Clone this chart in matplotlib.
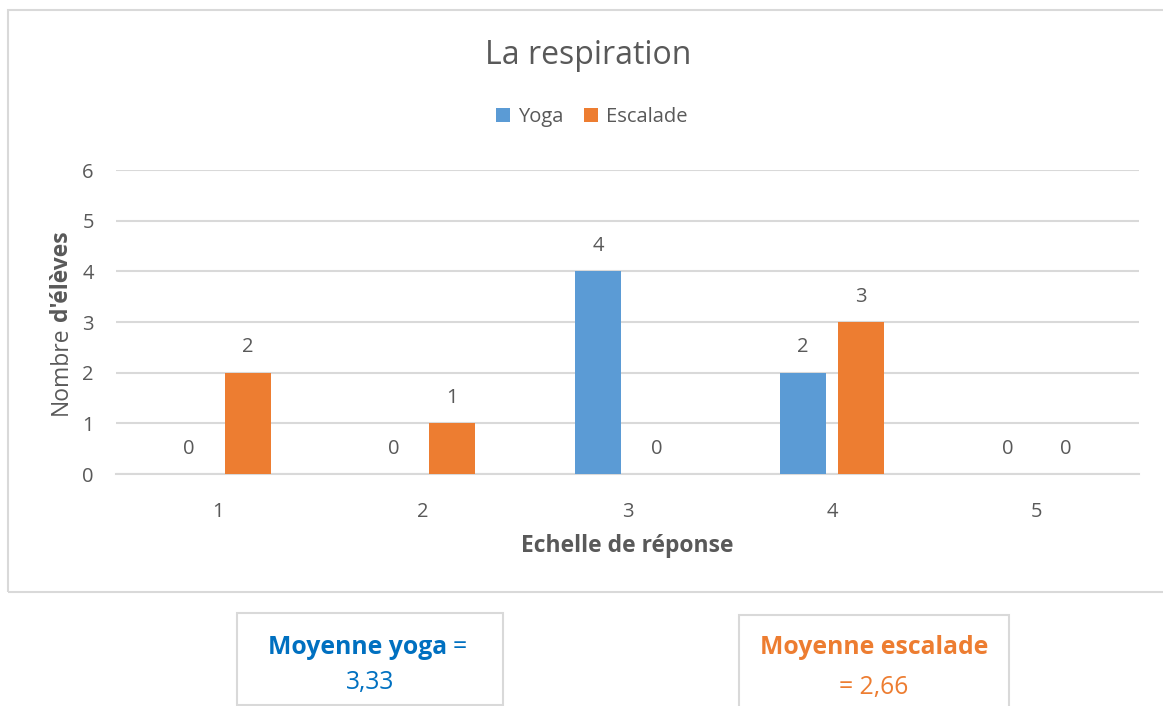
import matplotlib.pyplot as plt
from matplotlib.patches import Rectangle
import numpy as np

plt.rcParams['font.family'] = ['Open Sans', 'DejaVu Sans']

categories = ['1', '2', '3', '4', '5']
yoga = [0, 0, 4, 2, 0]
escalade = [2, 1, 0, 3, 0]
moyenne_yoga = '3,33'
moyenne_escalade = '2,66'

blue = '#5B9BD5'
orange = '#ED7D31'
grey = '#595959'
grid = '#D9D9D9'

fig = plt.figure(figsize=(11.63, 7.06), dpi=100)
W, H = 1163, 706

def fx(px):
    return px / W

def fy(py):
    return 1 - py / H

# chart frame
fig.patches.append(Rectangle((fx(8), fy(592)), fx(1170 - 8), fy(10) - fy(592),
                             transform=fig.transFigure, fill=False,
                             edgecolor=grid, lw=1.5))

ax = fig.add_axes([fx(116), fy(474), fx(1139 - 116), fy(170) - fy(474)])
x = np.arange(1, len(categories) + 1)
w = 0.225
off = 0.143
b1 = ax.bar(x - off, yoga, w, color=blue, label='Yoga', zorder=3)
b2 = ax.bar(x + off, escalade, w, color=orange, label='Escalade', zorder=3)
for bars in (b1, b2):
    ax.bar_label(bars, padding=11, fontsize=14.5, color=grey)

ax.set_xlim(0.5, 5.5)
ax.set_ylim(0, 6)
ax.set_xticks(x)
ax.set_xticklabels(categories)
ax.set_yticks(range(7))
ax.tick_params(axis='x', length=0, pad=20, labelsize=14.5, labelcolor=grey)
ax.tick_params(axis='y', length=0, pad=16, labelsize=14.5, labelcolor=grey)
ax.grid(axis='y', color=grid, lw=1.5, zorder=0)
for s in ['top', 'right', 'left']:
    ax.spines[s].set_visible(False)
ax.spines['bottom'].set_color(grid)
ax.spines['bottom'].set_linewidth(1.5)
ax.set_xlabel('Echelle de réponse', fontsize=16.5, fontweight='bold', color=grey, labelpad=9)

fig.text(fx(588), fy(55), 'La respiration', fontsize=23, color=grey, ha='center', va='center')
ax.legend(loc='center', bbox_to_anchor=(fx(592), fy(117)), bbox_transform=fig.transFigure,
          ncol=2, frameon=False, fontsize=14.5, labelcolor=grey, handlelength=0.7,
          handleheight=0.7, handletextpad=0.4, columnspacing=1.0)

fig.canvas.draw()

# y label: regular + bold part
t1 = fig.text(fx(67), fy(415), 'Nombre', rotation=90, rotation_mode='anchor',
              ha='left', va='baseline', fontsize=16.5, color=grey)
fig.canvas.draw()
bb = t1.get_window_extent()
t2 = fig.text(fx(67), (bb.y1 + 5) / fig.bbox.height, "d'élèves", rotation=90,
              rotation_mode='anchor', ha='left', va='baseline', fontsize=16.5,
              fontweight='bold', color=grey)

# boxes with means
fig.patches.append(Rectangle((fx(237), fy(705)), fx(503 - 237), fy(613) - fy(705),
                             transform=fig.transFigure, fill=False, edgecolor=grid, lw=1.5))
fig.patches.append(Rectangle((fx(739), fy(720)), fx(1009 - 739), fy(615) - fy(720),
                             transform=fig.transFigure, fill=False, edgecolor=grid, lw=1.5))

y_blue = '#0070C0'
m1 = fig.text(fx(268), fy(654), 'Moyenne yoga', fontsize=17.8, fontweight='bold',
              color=y_blue, ha='left', va='baseline')
fig.canvas.draw()
bb = m1.get_window_extent()
fig.text((bb.x1 + 6) / fig.bbox.width, fy(654), '=', fontsize=17.8, color=y_blue,
         ha='left', va='baseline')
fig.text(fx(370), fy(689), moyenne_yoga, fontsize=17.8, color=y_blue, ha='center', va='baseline')

fig.text(fx(874), fy(654), 'Moyenne escalade', fontsize=17.8, fontweight='bold',
         color=orange, ha='center', va='baseline')
fig.text(fx(874), fy(694), '= ' + moyenne_escalade, fontsize=17.8, color=orange,
         ha='center', va='baseline')

fig.savefig('out.png', dpi=100)
